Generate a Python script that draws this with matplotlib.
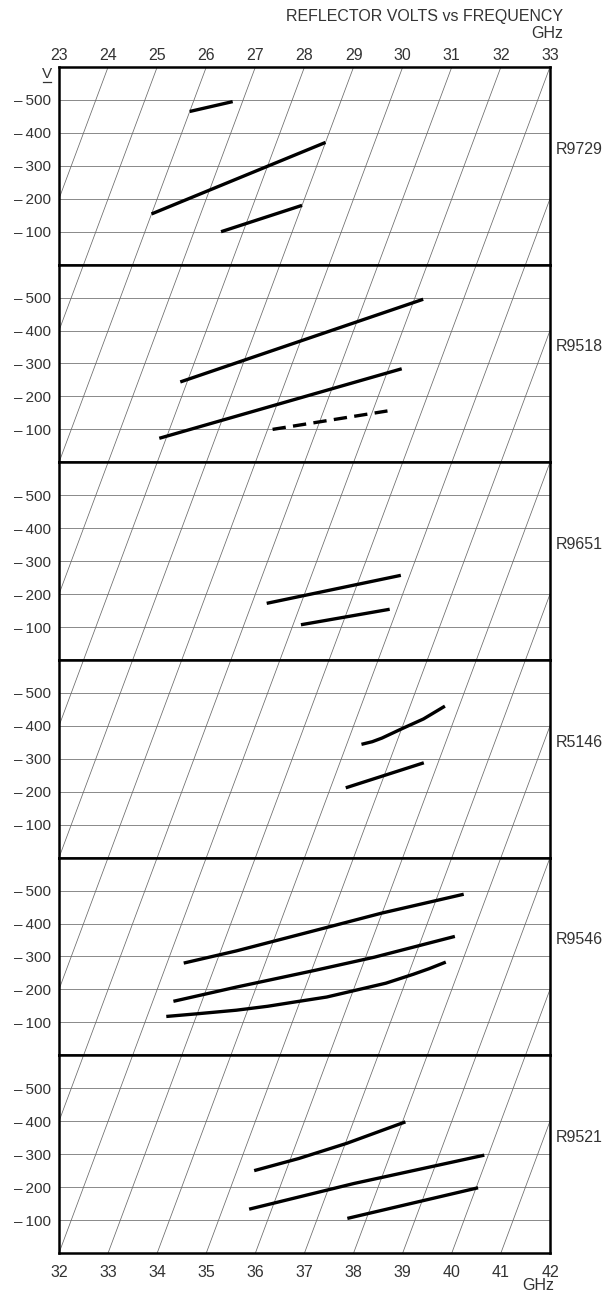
import numpy as np
import matplotlib
matplotlib.use("Agg")
import matplotlib.pyplot as plt
import matplotlib.transforms as mtransforms
from matplotlib.lines import Line2D

plt.rcParams['font.family'] = ['Liberation Sans', 'DejaVu Sans']

# Tube names (top to bottom) and axis labels
tubes = ['R9729', 'R9518', 'R9651', 'R5146', 'R9546', 'R9521']
top_ghz = list(range(23, 34))
bottom_ghz = list(range(32, 43))
volt_ticks = [-100, -200, -300, -400, -500]

# Modes per tube: (frequency GHz, reflector volts)
r9729_modes = [
    ([26.0, 26.8], [-465, -495]),
    ([26.0, 29.0], [-154, -371]),
    ([27.55, 29.0], [-100, -180]),
]
r9518_modes = [
    ([27.86, 32.18], [-244, -495]),
    ([27.86, 32.27], [-73, -284]),
]
r9518_dashed = ([30.1, 32.3], [-100, -156])
r9651_modes = [
    ([31.3, 33.82], [-172, -257]),
    ([32.16, 33.85], [-107, -154]),
]
r5146_modes = [
    ([34.3, 34.5, 34.67, 35.0, 35.37, 35.71], [-344, -352, -363, -391, -421, -460]),
    ([34.31, 35.71], [-212, -288]),
]
r9546_modes = [
    ([32.34, 33.32, 34.98, 36.0, 37.52], [-280, -317, -388, -432, -489]),
    ([32.42, 33.59, 35.07, 36.18, 37.66], [-164, -207, -258, -298, -361]),
    ([32.39, 32.99, 33.77, 34.38, 34.9, 35.51, 36.61, 37.1, 37.38, 37.67],
     [-118, -126, -137, -149, -162, -177, -219, -246, -263, -283]),
]
r9521_modes = [
    ([35.35, 36.17, 37.03, 38.06], [-250, -287, -333, -398]),
    ([35.54, 37.48, 39.92], [-133, -211, -297]),
    ([37.61, 40.04], [-105, -198]),
]
all_modes = [r9729_modes, r9518_modes, r9651_modes, r5146_modes, r9546_modes, r9521_modes]

# frequency lines lean 1.5 GHz across a 600 V panel
k = 1.5 / 600.0
text_c = '#333333'
grid_c = '#6a6a6a'

fig = plt.figure(figsize=(6.14, 12.96), dpi=100)
left = 59 / 614
width = (550 - 59) / 614
top = 1 - 67 / 1296
ph = (1253 - 67) / 1296 / 6

axes = []
for i, name in enumerate(tubes):
    ax = fig.add_axes([left, top - (i + 1) * ph, width, ph])
    f0 = 24.5 + 1.5 * i
    ax.set_xlim(f0, f0 + 10)
    ax.set_ylim(0, -600)
    skew = mtransforms.Affine2D(np.array([[1, -k, 0], [0, 1, 0], [0, 0, 1]])) + ax.transData

    # slanted frequency grid
    for f in np.arange(np.floor(f0 - 1.5), f0 + 11):
        ax.plot([f, f], [0, -600], transform=skew, color=grid_c, lw=0.55, zorder=1)
    ax.set_yticks(volt_ticks)
    ax.set_yticklabels(['\u2013\u2009' + str(-v) for v in volt_ticks], color=text_c, fontsize=11)
    ax.yaxis.grid(True, color=grid_c, lw=0.55)
    ax.tick_params(axis='y', length=0, pad=6)
    ax.set_xticks([])

    for f, v in all_modes[i]:
        ax.plot(f, v, transform=skew, color='black', lw=2.4, solid_capstyle='butt',
                solid_joinstyle='round', zorder=3)
    if name == 'R9518':
        ax.plot(r9518_dashed[0], r9518_dashed[1], transform=skew, color='black', lw=2.4,
                dashes=(4, 2.2), zorder=3)

    for s in ax.spines.values():
        s.set_linewidth(1.8)
        s.set_color('black')
    ax.text(1.012, 0.585, name, transform=ax.transAxes, fontsize=11.5, color=text_c,
            va='center', ha='left')
    axes.append(ax)

# top frequency scale (for the top of the first panel)
sec = axes[0].secondary_xaxis('top', functions=(lambda x: x - 1.5, lambda x: x + 1.5))
sec.set_xticks(top_ghz)
sec.set_xticklabels([str(g) for g in top_ghz], color=text_c, fontsize=11.5)
sec.tick_params(length=0, pad=3)
sec.spines['top'].set_visible(False)

# bottom frequency scale
axes[-1].set_xticks(bottom_ghz)
axes[-1].set_xticklabels([str(g) for g in bottom_ghz], color=text_c, fontsize=11.5)
axes[-1].tick_params(axis='x', length=0, pad=9)

fig.text(563 / 614, 1 - 16 / 1296, 'REFLECTOR VOLTS vs FREQUENCY', ha='right', va='center',
         fontsize=11.5, color=text_c)
fig.text(563 / 614, 1 - 34 / 1296, 'GHz', ha='right', va='center', fontsize=11.5, color=text_c)
fig.text(554 / 614, 1 - 1286 / 1296, 'GHz', ha='right', va='center', fontsize=11.5, color=text_c)
fig.text(47 / 614, 1 - 74 / 1296, 'V', ha='center', va='center', fontsize=11, color=text_c)
fig.add_artist(Line2D([43 / 614, 51 / 614], [1 - 82 / 1296] * 2, color=text_c, lw=0.9))

fig.savefig('out.png', dpi=100, facecolor='white')
